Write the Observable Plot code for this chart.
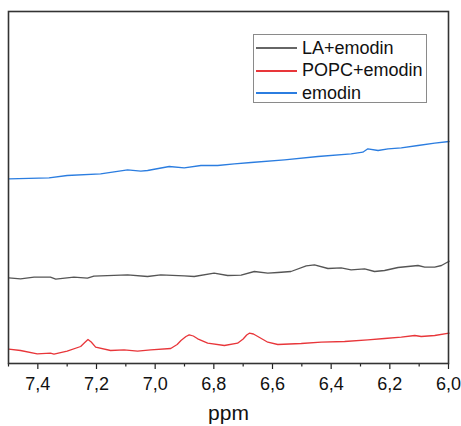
<!DOCTYPE html>
<html>
<head>
<meta charset="utf-8">
<script src="https://cdn.jsdelivr.net/npm/d3@7"></script>
<script src="https://cdn.jsdelivr.net/npm/@observablehq/plot@0.6"></script>
<style>
  body { margin: 0; background: #fff; }
  #wrap { position: relative; width: 461px; height: 426px; font-family: "Liberation Sans", Arial, sans-serif; }
  #legend { position: absolute; left: 253px; top: 34px; width: 174px; height: 69px; border: 1px solid #8a8a8a; background: #fff; box-sizing: border-box; }
  .row { position: absolute; left: 2px; height: 22px; display: flex; align-items: center; font-size: 18px; color: #111; white-space: nowrap; }
  .sw { display: inline-block; width: 41px; height: 2px; margin-right: 5px; }
</style>
</head>
<body>
<div id="wrap"></div>
<script>
// Series names and colours
const seriesNames = ["LA+emodin", "POPC+emodin", "emodin"];
const seriesColors = ["#555555", "#e8363a", "#2b7de0"];

// emodin (blue) — ppm, intensity (arbitrary units)
const emodinPpm = [7.499, 7.362, 7.30, 7.186, 7.094, 7.049, 7.026, 6.952, 6.901, 6.844, 6.787, 6.730, 6.673, 6.559, 6.445, 6.332, 6.292, 6.275, 6.240, 6.206, 6.161, 6.104, 6.047, 5.998];
const emodinInt = [184.7, 185.7, 188, 189.7, 193.7, 192.3, 193, 197, 195.7, 198, 198, 199.7, 201, 203.7, 207, 209.7, 211.3, 214.7, 213, 214.7, 215.7, 218, 220.3, 222];

// LA+emodin (grey)
const laPpm = [7.499, 7.459, 7.413, 7.357, 7.339, 7.277, 7.231, 7.209, 7.094, 7.026, 6.981, 6.901, 6.867, 6.799, 6.753, 6.707, 6.662, 6.616, 6.582, 6.537, 6.485, 6.457, 6.411, 6.366, 6.332, 6.286, 6.252, 6.218, 6.172, 6.104, 6.081, 6.047, 6.024, 5.998];
const laInt = [85.7, 84.7, 86.3, 86.3, 84.3, 86.3, 85.3, 87.3, 88.7, 87, 88.7, 87.7, 87, 90.3, 88, 88.3, 92, 90.3, 91, 92, 97.7, 98.7, 95, 95.7, 93.7, 94.7, 92, 93, 96, 98, 96.3, 96.3, 98, 102.3];

// POPC+emodin (red)
const popcPpm = [7.499, 7.459, 7.402, 7.357, 7.345, 7.300, 7.254, 7.240, 7.229, 7.218, 7.203, 7.152, 7.106, 7.060, 7.015, 6.947, 6.925, 6.912, 6.895, 6.884, 6.870, 6.855, 6.821, 6.764, 6.719, 6.700, 6.688, 6.679, 6.665, 6.650, 6.616, 6.582, 6.502, 6.434, 6.354, 6.275, 6.218, 6.161, 6.115, 6.093, 6.047, 5.998];
const popcInt = [14.3, 13, 9.7, 10.3, 9.3, 12.3, 17, 21, 24, 21.5, 16.3, 13, 13.7, 12.3, 13.7, 15, 19, 23, 27, 28.7, 27.5, 24.7, 20.3, 18, 20.3, 24.5, 28.5, 30.3, 29.5, 27, 21.3, 19, 20, 21.3, 22, 23.7, 25, 26.3, 28, 27, 28, 30.3];

// Axis ticks
const majorTicks = [7.4, 7.2, 7.0, 6.8, 6.6, 6.4, 6.2, 6.0];
const minorTicks = [7.5, 7.3, 7.1, 6.9, 6.7, 6.5, 6.3, 6.1];
const xLabel = "ppm";

const rows = [];
const add = (name, xs, ys) => xs.forEach((x, i) => rows.push({series: name, ppm: x, v: ys[i]}));
add("LA+emodin", laPpm, laInt);
add("POPC+emodin", popcPpm, popcInt);
add("emodin", emodinPpm, emodinInt);

const fmt = d => d.toFixed(1).replace(".", ",");

const chart = Plot.plot({
  width: 461,
  height: 426,
  marginLeft: 8,
  marginRight: 13,
  marginTop: 11,
  marginBottom: 63,
  style: {fontFamily: "Liberation Sans, Arial, sans-serif", background: "#fff"},
  x: {domain: [7.5, 6.0]},
  y: {domain: [0, 352], axis: null},
  color: {domain: seriesNames, range: seriesColors},
  marks: [
    Plot.axisX({ticks: minorTicks, tickSize: 3.5, tickFormat: () => "", label: null, stroke: "#222", strokeWidth: 1.2}),
    Plot.axisX({ticks: majorTicks, tickSize: 6, tickPadding: 8, tickFormat: fmt, fontSize: 18, label: null, stroke: "#222", strokeWidth: 1.2, fill: "#111"}),
    Plot.line(rows, {x: "ppm", y: "v", z: "series", stroke: "series", strokeWidth: 1.3}),
    Plot.frame({stroke: "#333", strokeWidth: 1.6}),
    Plot.text([xLabel], {frameAnchor: "bottom", dy: 56, text: d => d, fontSize: 21, fill: "#111"})
  ]
});

const wrap = document.getElementById("wrap");
wrap.appendChild(chart);

const legend = document.createElement("div");
legend.id = "legend";
seriesNames.forEach((name, i) => {
  const row = document.createElement("div");
  row.className = "row";
  row.style.top = (2 + i * 22.5) + "px";
  const sw = document.createElement("span");
  sw.className = "sw";
  sw.style.background = i === 0 ? "#666666" : seriesColors[i];
  const t = document.createElement("span");
  t.textContent = name;
  row.appendChild(sw);
  row.appendChild(t);
  legend.appendChild(row);
});
wrap.appendChild(legend);
</script>
</body>
</html>
